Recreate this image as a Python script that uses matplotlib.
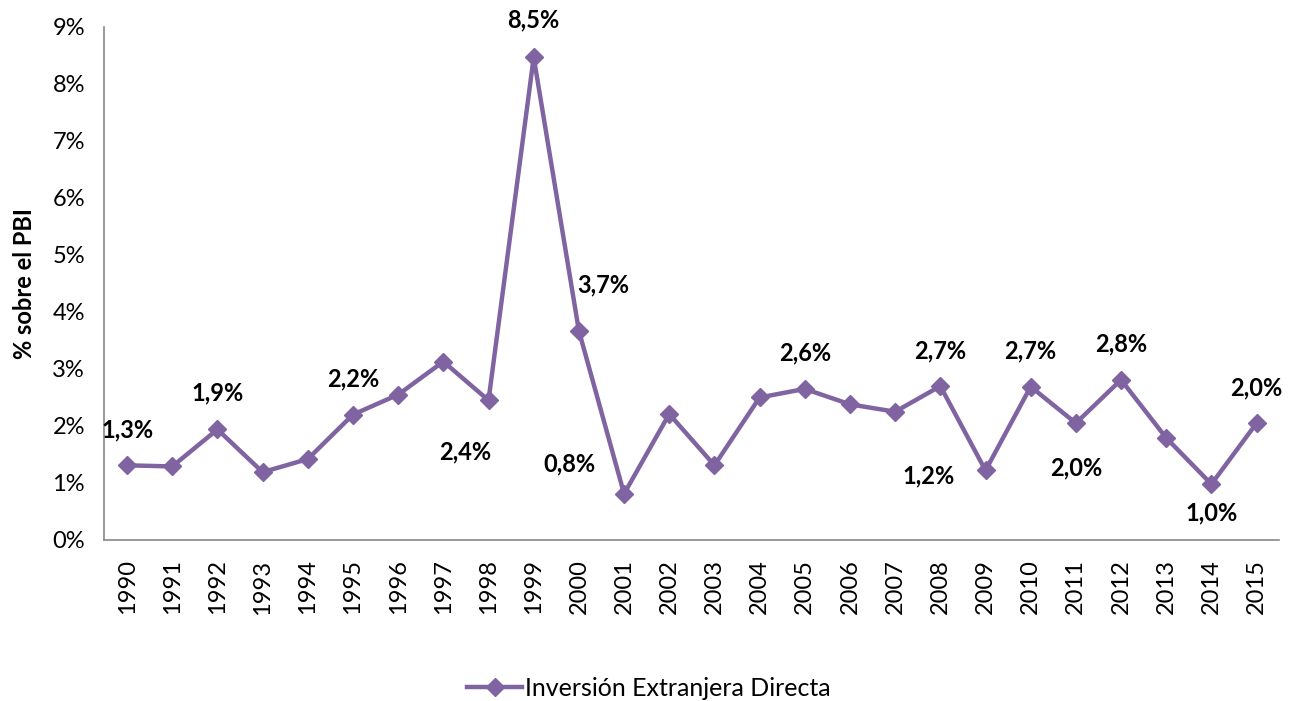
import matplotlib
matplotlib.use("Agg")
import matplotlib.pyplot as plt
from matplotlib.ticker import FuncFormatter

plt.rcParams["font.family"] = ["Lato", "DejaVu Sans"]

years = list(range(1990, 2016))
ied = [1.31, 1.29, 1.94, 1.19, 1.42, 2.20, 2.55, 3.13, 2.45, 8.47,
       3.67, 0.81, 2.21, 1.31, 2.50, 2.65, 2.38, 2.25, 2.70, 1.22,
       2.69, 2.05, 2.81, 1.79, 0.98, 2.05]

# labelled points: year -> (text, dx px, dy px)
labels = {
    1990: ("1,3%", 0, 35), 1992: ("1,9%", 0, 36), 1995: ("2,2%", 0, 36),
    1998: ("2,4%", -23, -52), 1999: ("8,5%", 0, 37), 2000: ("3,7%", 24, 46),
    2001: ("0,8%", -55, 30), 2005: ("2,6%", 0, 36), 2008: ("2,7%", 0, 35),
    2009: ("1,2%", -57, -5), 2010: ("2,7%", 0, 36), 2011: ("2,0%", 0, -45),
    2012: ("2,8%", 0, 36), 2014: ("1,0%", 0, -29), 2015: ("2,0%", 0, 35),
}

purple = "#8064A2"

fig = plt.figure(figsize=(12.98, 7.01), dpi=100)
ax = fig.add_axes([0.0805, 0.2297, 0.905, 0.7318])

x = list(range(len(years)))
ax.plot(x, ied, color=purple, lw=3.2, marker="D", ms=9.5,
        label="Inversión Extranjera Directa")

for i, (yr, v) in enumerate(zip(years, ied)):
    if yr in labels:
        t, dx, dy = labels[yr]
        ax.annotate(t, (i, v), xytext=(dx * 0.72, dy * 0.72),
                    textcoords="offset points", ha="center", va="center",
                    fontsize=17, fontweight="bold")

ax.set_xlim(-0.5, len(years) - 0.5)
ax.set_ylim(0, 9)
ax.set_yticks(range(0, 10))
ax.yaxis.set_major_formatter(FuncFormatter(lambda v, p: f"{int(v)}%"))
ax.set_xticks(x)
ax.set_xticklabels([str(y) for y in years], rotation=90)
ax.tick_params(axis="both", labelsize=17, length=0, pad=14)
for s in ("top", "right"):
    ax.spines[s].set_visible(False)
for s in ("left", "bottom"):
    ax.spines[s].set_color("#888888")
    ax.spines[s].set_linewidth(1.2)
ax.set_ylabel("% sobre el PBI", fontsize=17, fontweight="bold", labelpad=12)

fig.legend(loc="center", bbox_to_anchor=(0.5, 0.018), frameon=False,
           fontsize=18, handlelength=2.2, handletextpad=0.1)

fig.savefig("out.png", dpi=100)
